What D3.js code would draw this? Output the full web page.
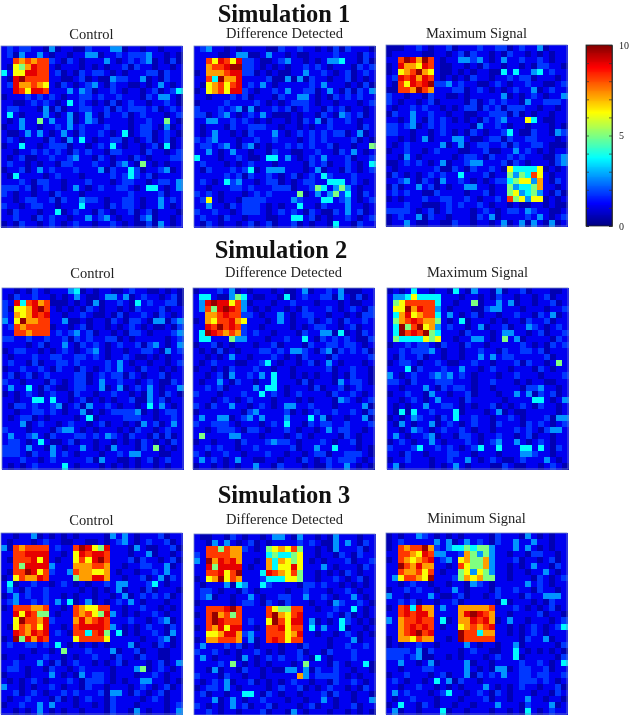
<!DOCTYPE html>
<html><head><meta charset="utf-8">
<script src="https://cdn.jsdelivr.net/npm/d3@7/dist/d3.min.js"></script>
<style>html,body{margin:0;padding:0;background:#fff}svg{display:block;filter:blur(.5px)}</style>
</head><body><svg id="c" width="630" height="715"></svg>
<script>
// Each character is a colour level (X = top level).
const levelValues=[0.5,1.1,1.8,2.7,3.7,5,6.2,7.2,8.2,9,9.8];
const sim1Control=[
"12122 11030 11002 11133 01101 10111","12031 13101 10113 30112 12223 11010","11878 78821 02101 11310 12123 01020","10657 98810 11101 01011 20211 01101","41669 98812 01021 22101 01112 20211","109X8 88811 00120 10032 21130 10211",
"12977 87610 21012 31021 10010 13101","11986 99811 13132 01121 01101 20124","01112 12121 01122 12112 11102 13310","11001 21210 14121 01020 12110 11210","12211 10302 01122 11202 12221 20121","14101 11310 13013 10211 20121 11012",
"10131 15131 13013 20111 10112 11510","01131 10112 13121 11211 10122 10301","10013 13101 31021 12101 40122 01210","12101 11021 03141 01122 01012 01201","01141 10122 20110 12141 01101 20401","11011 21212 10212 11022 11102 11012",
"10120 01121 12311 02101 10210 11122","12110 10110 22111 21102 31051 01011","01120 13121 11211 13021 14201 12301","10411 11012 11101 11121 24212 01111","11121 02211 01112 11101 22110 12213","22212 01211 01310 12112 21014 41013",
"21011 01102 11101 11111 12111 12011","11012 21120 21132 21011 22101 13121","21101 22110 11141 11021 22101 13101","10211 10114 01211 02101 12012 01110","11211 02121 10113 12310 11023 01101","01021 10121 01211 01121 01002 03101"];
const sim1Difference=[
"12311 01011 11002 11211 01020 21110","11110 01330 01311 01001 11121 11021","11869 86922 10012 31101 01334 11020","11788 9XX22 10101 01121 21011 10212","01777 89922 01010 01131 12101 20121","1184X 77911 11200 30302 11011 20101",
"10678 68912 13101 11112 13111 01020","01678 69921 01121 31122 01310 20213","11011 12120 11102 11331 01021 21211","01111 21111 21010 12221 01101 11012","21112 12303 01121 20121 10212 01101","22012 31012 13100 01011 02103 21201",
"11331 12121 01011 01021 30211 21011","10111 02112 22110 11010 11211 11021","10131 10102 11131 01212 12122 01301","21231 11011 21121 11012 12111 12010","12212 31023 01011 21212 11201 10115","11310 13110 11021 10011 21102 13101",
"41110 11210 01441 31012 13111 20112","12111 01012 11101 11102 12011 21014","10211 12124 01333 11101 30110 21012","11111 21202 11210 12012 14211 12111","12101 42311 01220 10122 11444 12101","11011 12212 11122 20112 54135 31011",
"21210 11101 21211 11501 31352 41021","12610 11022 22111 13211 14412 31012","11311 02122 21010 11411 02111 31101","21121 10122 21012 12102 10021 31201","12110 21101 11001 14412 01011 21012","10210 11012 01201 12010 11041 10211"];
const sim1Maximum=[
"00011 21011 20111 21122 01211 30111","01111 10011 01202 11010 21101 01011","118X9 7X810 11332 31013 11211 21011","01977 69810 01101 02110 11010 22110","01678 X7610 01010 11004 14113 41211","12989 79810 10102 11011 21220 11101",
"10869 89X22 31211 00121 01121 10012","00887 X8711 12201 21010 12113 01211","21101 10211 00101 11113 01012 10113","21011 01201 11102 01212 11031 12221","10112 12110 10122 02120 22211 01101","02113 11211 01100 11222 02010 11011",
"11013 10212 10101 02123 11164 10011","22123 01212 11110 31121 01101 11010","22110 11012 10102 10112 41002 11032","11010 13011 13310 01220 21122 11101","10121 11113 01301 22112 02112 21000","01121 10121 11001 12001 13121 01011",
"11031 01111 10122 10211 21211 10023","00121 21013 01123 31112 02101 11023","10111 11120 02102 11210 64444 60101","02101 01212 11411 12011 53548 61011","11231 02103 11210 10122 45663 71021","02011 31201 01133 11011 53445 71101",
"12121 10021 11101 12011 56345 31020","01011 12112 21121 01121 85636 60101","11121 10001 21211 21011 01001 10100","22221 01201 21110 12101 22132 11001","01211 30211 01110 21301 11121 31012","01131 00110 02110 11013 01303 10301"];
const sim2Control=[
"11010 21011 13401 01100 12110 01010","10211 21101 01310 01331 30121 10120","21948 97800 01010 30112 10412 11220","20667 9X810 10102 10110 10211 12011","21767 98911 01121 00102 01121 02101","316X7 78811 30010 11021 02210 33023",
"12878 88801 10120 11010 12101 00102","11887 88812 12312 01101 02210 11123","22112 11211 20212 11220 10111 11012","11110 12011 31021 21012 11202 31013","01221 10101 21012 31011 01122 10312","10111 21122 11221 21011 21001 01011",
"12110 20112 21211 11213 10110 11012","01121 12102 11021 01213 11021 10101","12012 01211 11220 12122 02101 12011","21101 11021 01220 13112 11012 10021","13114 10210 01221 13013 01213 10113","01012 10121 10211 01121 10103 10210",
"11011 44141 10120 10101 12003 12011","10221 21123 01203 11210 11014 13101","11011 22121 01130 10122 22301 01221","10122 01011 11014 01111 22211 01121","11130 12110 12110 12011 01031 20131","21110 11102 33101 01110 10211 01211",
"13112 31021 11221 21321 02110 20201","12210 14100 12011 01101 01021 01021","22213 11031 01131 01031 11021 50101","22210 21131 21011 10112 13311 10011","11121 10121 11112 03110 01012 01211","10101 21111 41011 10101 01011 01011"];
const sim2Difference=[
"01112 13010 11101 00130 11213 00011","14410 03541 00110 40121 12203 10201","139X9 96830 11101 12111 01110 10011","13859 X9831 01011 01021 11210 12102","11778 98822 10113 10122 11011 01022","01768 89761 11013 10112 01210 21121",
"1198X 89821 10111 10101 22110 12011","14X98 78721 21101 11021 13304 01021","14411 15331 11011 21141 02121 21002","01120 10111 01120 11102 11221 22101","10102 01011 12212 13321 02302 12120","11010 13110 11121 01021 11021 11112",
"10121 11001 12410 11012 01310 11101","01101 02111 21101 10111 11201 12110","11012 03112 13141 10101 01101 02110","10113 10211 01141 11020 11103 12210","11212 01111 31441 01110 20112 01211","21110 11121 14121 01211 11021 12101",
"11101 21012 11101 11010 11103 21012","21021 13110 12101 33112 11101 11130","01111 11102 31111 20101 21121 12102","13113 30123 13111 31114 13011 01130","21122 21011 10121 41102 12211 21112","11012 22102 21011 21011 01312 21101",
"15111 13311 10111 01210 11110 21011","01101 11021 11232 21011 12101 12011","11212 11011 21111 12011 31141 11010","21011 21101 11211 01101 22011 22210","13121 01311 00110 11021 01212 22101","01101 01011 31102 11101 00211 31010"];
const sim2Maximum=[
"01014 11011 04103 11030 11201 11001","13346 44441 11011 01021 10110 12011","15688 88841 10115 01131 30110 11201","166X7 98831 01110 02331 11011 10112","14796 78841 31012 01101 12110 21301","15789 87751 01401 11010 11021 12011",
"14X58 X6731 21101 30112 01132 10121","14X89 8X541 11021 11013 31101 20112","15444 46561 10113 31015 13011 11021","01121 22102 11021 10111 11210 10212","11212 22310 11011 21102 11221 20111","10211 20110 11011 31312 21111 12011",
"01221 01121 00112 11011 12021 10151","11140 21112 11311 01211 01110 21011","31012 11232 31210 11101 12111 01112","22102 11122 21110 11211 10101 10011","11011 13102 12210 11011 11022 31101","01121 10311 01120 11101 13130 21201",
"11012 10131 11021 11110 11114 41013","10101 13112 21010 11201 01210 21101","10404 11211 14011 10130 10011 11101","01013 21102 14112 11011 21011 12033","10310 11301 21012 11021 11021 21012","11013 21012 11210 11011 12121 02331",
"13101 12301 10221 01121 10120 11011","01210 11310 11121 01231 13101 21011","21112 41121 21012 41141 11441 41021","11021 10111 22110 11101 11332 11011","01121 11011 21131 01210 01211 13101","13011 11010 13101 11002 10011 01210"];
const sim3Control=[
"11011 30101 01011 11031 31011 12011","10111 01211 00110 01012 31012 11201","30878 88812 118X9 65911 10310 01120","11889 99911 01698 99811 10113 01101","10888 96910 11686 9X811 12021 10120","11859 99931 11777 88711 01122 11301",
"1088X 96821 13877 66710 11011 21311","01687 79811 11577 99711 01120 13021","14011 21101 21010 11213 31112 41011","13102 11211 11101 01013 01102 01110","01312 11211 01011 01101 30121 21201","12311 21213 14013 01012 13101 11011",
"01888 77811 01876 68811 01121 10101","11969 85510 11878 65931 01011 21011","116X8 87921 11797 89811 12110 12301","10687 86911 01899 99831 01012 11021","11987 98912 10884 89514 01011 21031","01X59 79811 11688 88611 11101 12301",
"12112 21214 10101 01011 13011 02101","11111 01101 51112 11130 11201 10011","01101 11211 01011 21102 11021 10011","11211 13102 01211 01012 01110 12013","12210 11021 10121 11101 11350 12101","01110 11131 01031 22101 11011 21011",
"10101 21011 12102 22101 01133 11010","31101 01121 01102 11011 10121 01201","11201 21011 21211 12033 10210 12011","10112 11102 01012 11021 11101 21011","01121 13131 11011 01021 11011 11012","11010 13101 01101 11021 10310 11013"];
const sim3Difference=[
"10011 02101 10133 10311 01031 11011","11031 31012 01011 11212 10031 31021","11885 87721 01567 68511 01031 11201","21888 87711 11454 45611 01102 10211","31X79 89711 01747 65610 10111 20112","11959 99910 11746 69611 13101 11021",
"11889 68X11 14987 68511 01010 21011","0167X 68711 12444 66511 01121 01201","10111 30431 14211 11022 12110 10101","12210 11021 01111 01121 11011 21011","12301 10113 10112 21131 12101 13101","01111 10122 10210 21110 11032 11210",
"11888 9X811 11865 58811 01121 14101","018X7 85811 118X7 68911 11210 20101","118X9 88812 116X8 69913 01014 21010","01879 69911 01889 68814 13114 01101","11667 99723 11888 67911 01101 21010","01778 88713 01898 68811 11011 13011",
"13111 21201 01110 11021 11011 21121","21121 01011 21010 11201 10211 12111","13101 11031 01212 11210 41011 12111","11112 15101 01011 10151 11021 01140","11030 11021 10100 33130 21121 10110","21110 21101 10111 11731 22221 01011",
"10121 30112 01010 12110 11021 12101","01221 31011 11012 11201 01211 01021","12011 01144 10210 11011 12021 10110","11130 13101 12111 01101 13101 10113","21010 13120 11201 11012 01101 12011","11210 11011 12011 03101 11011 01010"];
const sim3Minimum=[
"01011 32101 01011 11021 11031 01011","01211 11131 30131 21021 13113 11011","01878 8X721 34454 55311 13131 01011","11887 69833 11275 35311 01102 21101","01876 78912 31675 57311 12011 01201","11X87 97711 01865 57311 01013 11021",
"11877 86810 11563 65311 01101 13101","13688 76X11 12576 75511 01110 21012","11012 11011 01103 21011 11131 21011","01121 21101 13101 11021 12110 21101","31101 11310 01201 10121 11021 13331","11212 01101 12011 11104 01110 10211",
"01894 97713 11777 77811 12101 01201","11898 99711 1179X 98711 01111 20110","31788 98814 01779 89701 31101 11012","11789 89810 11678 78911 01012 10124","11789 X8911 11X88 47711 01012 10111","01776 87711 01X88 88811 11021 13011",
"01011 21101 11131 01101 13011 11102","22221 30211 11012 11001 14101 01010","22212 30011 01011 10121 14011 11102","11311 01301 11130 11011 11211 21014","11011 12211 11131 01033 01221 12011","01121 11012 01130 21213 11221 22112",
"12101 10141 30211 01111 11222 12101","11011 21101 01011 13101 01211 01120","13121 11012 41101 21021 01110 11021","10112 11101 11011 12011 01131 10110","01411 02101 10110 11131 11021 11301","13011 01114 01101 11011 01041 01211"];

const sectionTitles=["Simulation 1","Simulation 2","Simulation 3"];
const panelTitles=[["Control","Difference Detected","Maximum Signal"],["Control","Difference Detected","Maximum Signal"],["Control","Difference Detected","Minimum Signal"]];
const panelData=[[sim1Control,sim1Difference,sim1Maximum],[sim2Control,sim2Difference,sim2Maximum],[sim3Control,sim3Difference,sim3Minimum]];
const colorTicks=[0,1,2,3,4,5,6,7,8,9,10];
const colorLabels=[0,5,10];

const svg=d3.select("#c");
const jet=d3.scaleLinear().domain([0,1.25,3.75,6.25,8.75,10])
  .range(["#000080","#0000ff","#00ffff","#ffff00","#ff0000","#800000"]).clamp(true);
const parseRows=rows=>rows.map(r=>Array.from(r.replace(/ /g,"")).map(c=>levelValues[c==="X"?10:+c]));
const layout=[
 {titleX:284,titleY:22,subY:[39,38,38],x:[1,194,386],y:[46,46,45]},
 {titleX:281,titleY:258,subY:[278,277,277],x:[2,193,387],y:[288,288,288]},
 {titleX:284,titleY:503,subY:[525,524,523],x:[1,194,386],y:[533,534,533]}];
const size=181;
const idx=d3.range(30);
const x=d3.scaleBand().domain(idx).range([0,size]);
const y=d3.scaleBand().domain(idx).range([0,size]);
panelData.forEach((row,i)=>{
  const L=layout[i];
  svg.append("text").attr("x",L.titleX).attr("y",L.titleY).attr("text-anchor","middle")
    .attr("font-family","'Liberation Serif'").attr("font-weight","bold").attr("font-size",24.5).attr("fill","#111").text(sectionTitles[i]);
  row.forEach((rows,j)=>{
    const g=svg.append("g").attr("transform",`translate(${L.x[j]},${L.y[j]})`);
    const cells=parseRows(rows).flatMap((r,ry)=>r.map((v,cx)=>({v,cx,ry})));
    g.selectAll("rect").data(cells).join("rect")
      .attr("x",d=>x(d.cx)).attr("y",d=>y(d.ry))
      .attr("width",x.bandwidth()+.5).attr("height",y.bandwidth()+.5)
      .attr("shape-rendering","crispEdges")
      .attr("fill",d=>jet(d.v));
    g.append("rect").attr("width",size).attr("height",size).attr("fill","none").attr("stroke","#6f80c4").attr("stroke-width",.8);
    svg.append("text").attr("x",L.x[j]+size/2).attr("y",L.subY[j]).attr("text-anchor","middle")
      .attr("font-family","'Liberation Serif'").attr("font-size",14.5).attr("fill","#222").text(panelTitles[i][j]);
  });
});
// colour bar
const barX=586,barW=26,barTop=45,barH=181;
const barScale=d3.scaleLinear().domain([0,10]).range([barTop+barH,barTop]);
const barSteps=d3.range(0,10,.05);
svg.append("g").selectAll("rect").data(barSteps).join("rect")
  .attr("x",barX).attr("width",barW).attr("y",d=>barScale(d+.05)-.3).attr("height",barH/200+.6)
  .attr("shape-rendering","crispEdges").attr("fill",d=>jet(d));
const axR=d3.axisRight(barScale).tickValues(colorTicks).tickSize(-3).tickPadding(7).tickFormat(d=>colorLabels.includes(d)?d:"");
const axL=d3.axisLeft(barScale).tickValues(colorTicks).tickSize(-3).tickFormat("");
const a1=svg.append("g").attr("transform",`translate(${barX+barW},0)`).call(axR);
const a2=svg.append("g").attr("transform",`translate(${barX},0)`).call(axL);
[a1,a2].forEach(a=>{a.select(".domain").attr("stroke","#222").attr("stroke-width",.8);a.selectAll("line").attr("stroke","#333").attr("stroke-width",.7);
  a.selectAll("text").attr("font-family","'Liberation Serif'").attr("font-size",10).attr("fill","#222");});
svg.append("rect").attr("x",barX).attr("y",barTop).attr("width",barW).attr("height",barH).attr("fill","none").attr("stroke","#222").attr("stroke-width",.8);
</script></body></html>
